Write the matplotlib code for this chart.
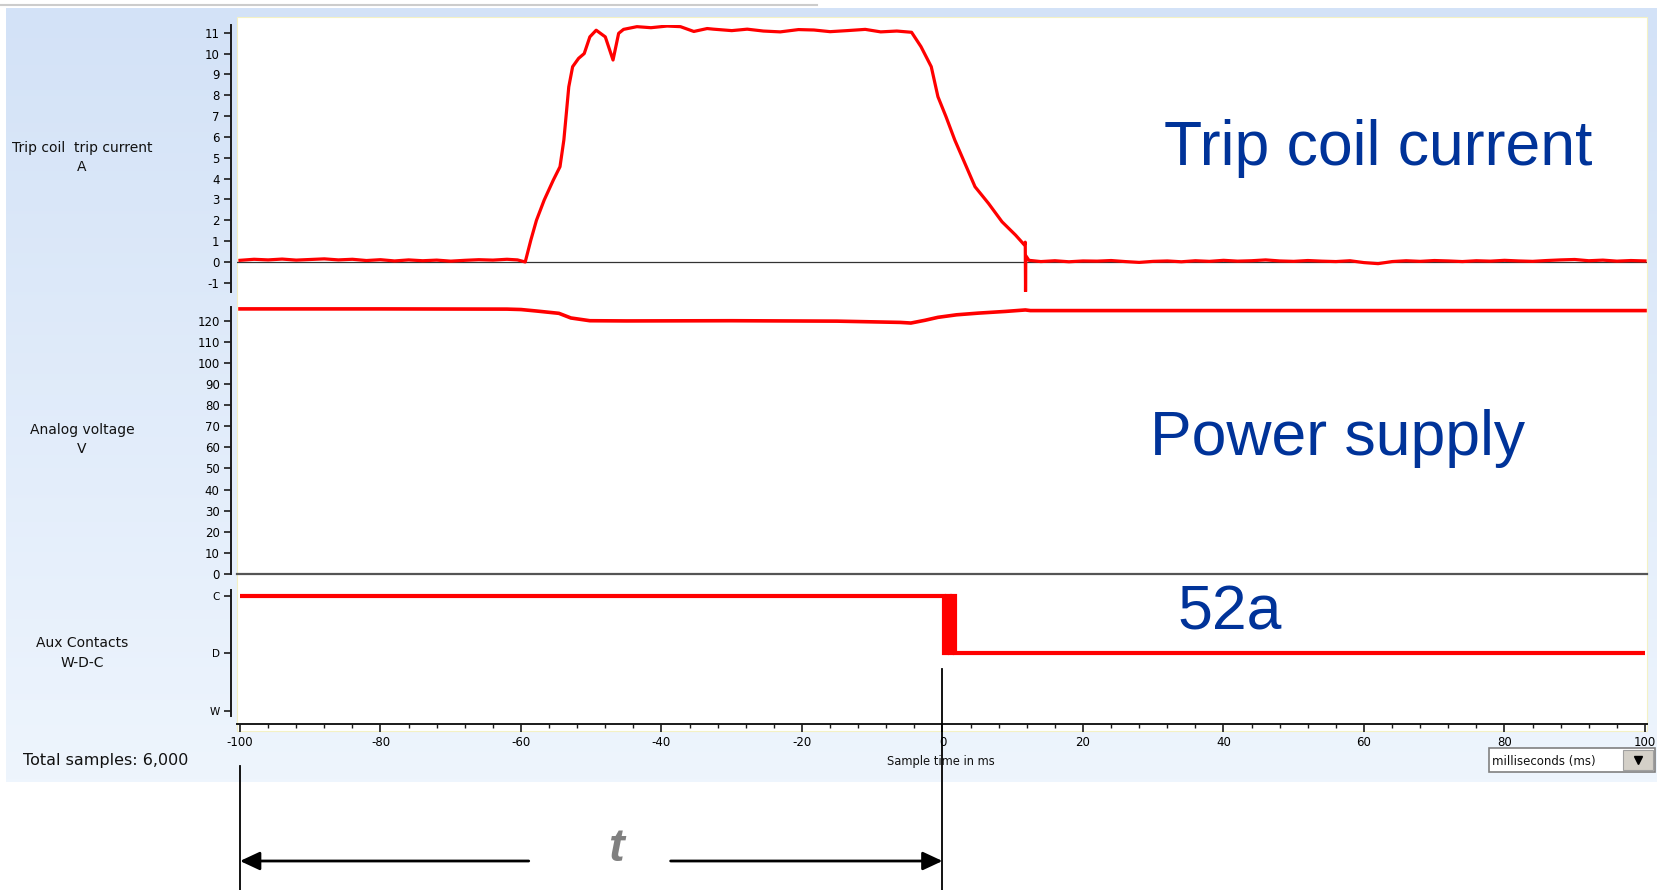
import numpy as np
import matplotlib
matplotlib.use("Agg")
import matplotlib.pyplot as plt
import matplotlib.transforms as mtransforms
from matplotlib.patches import Rectangle, FancyArrowPatch
from matplotlib.lines import Line2D
from matplotlib.colors import LinearSegmentedColormap
from matplotlib.ticker import MultipleLocator, FixedLocator

plt.rcParams["axes.unicode_minus"] = False
plt.rcParams["font.family"] = ["DejaVu Sans"]

# ---- recorded traces (time in ms) ----
current_t = [-100, -98, -96, -94, -92, -90, -88, -86, -84, -82, -80, -78, -76,
             -74, -72, -70, -68, -66, -64, -62, -60.5, -59.4,
             -58.6, -57.8, -56.7, -55.4, -54.45, -53.9, -53.5, -53.2, -52.65,
             -51.8, -51.0, -50.2, -49.3, -48.0, -46.9, -46.1, -45.4, -43.5,
             -41.5, -39.2, -37.3, -35.4, -33.5, -32.6, -30, -27.8, -25.5,
             -23.1, -20.5, -18.3, -16, -13.6, -11, -8.8, -6.5,
             -4.4, -3.06, -1.6, -0.65, 0.5, 1.75, 3.19, 4.63, 6.55, 8.47,
             10.4, 11.65, 11.78, 11.82, 11.86, 12.3, 14, 16, 18, 20, 22, 24,
             26, 28, 30, 32, 34, 36, 38, 40, 42, 44, 46, 48, 50, 52, 54, 56,
             58, 60, 62, 64, 66, 68, 70, 72, 74, 76, 78, 80, 82, 84, 86, 88,
             90, 92, 94, 96, 98, 100]
current_a = [0.08, 0.13, 0.10, 0.14, 0.09, 0.12, 0.15, 0.10, 0.13, 0.07, 0.11,
             0.05, 0.10, 0.06, 0.09, 0.04, 0.08, 0.11, 0.09, 0.13, 0.10, 0.0,
             1.05, 2.0, 2.97, 3.93, 4.57, 5.85, 7.3, 8.4, 9.37,
             9.77, 10.0, 10.8, 11.12, 10.8, 9.69, 10.97, 11.16, 11.29,
             11.24, 11.32, 11.29, 11.06, 11.20, 11.17, 11.10, 11.17, 11.08,
             11.04, 11.15, 11.13, 11.05, 11.10, 11.16, 11.04, 11.08,
             11.02, 10.33, 9.37, 7.93, 6.97, 5.85, 4.73, 3.61, 2.81, 1.93,
             1.29, 0.82, 0.95, -1.42, 0.30, 0.08, 0.02, 0.06, 0.01, 0.05,
             0.04, 0.07, 0.02, -0.02, 0.03, 0.05, 0.01, 0.06, 0.03,
             0.08, 0.04, 0.06, 0.10, 0.05, 0.03, 0.07, 0.04, 0.02, 0.06,
             -0.03, -0.08, 0.02, 0.06, 0.03, 0.07, 0.05, 0.02, 0.06, 0.04,
             0.08, 0.05, 0.03, 0.07, 0.10, 0.12, 0.06, 0.09, 0.04, 0.07, 0.05]

voltage_t = [-100, -80, -62, -60, -57.8, -54.6, -52.9, -50.2, -45, -30, -15,
             -6, -4.5, -2.5, -0.65, 2, 5.1, 8.95, 11.8, 12.5, 40, 70, 100]
voltage_v = [125.6, 125.6, 125.5, 125.3, 124.6, 123.5, 121.3, 120.0, 119.9,
             120.0, 119.8, 119.2, 118.9, 120.2, 121.6, 122.8, 123.6, 124.4,
             125.1, 124.8, 124.8, 124.8, 124.8]

# 52a auxiliary contact state: 0 = W, 1 = D, 2 = C (contact bounce near 0 ms)
aux_t = [-100, 0.2, 0.2, 0.6, 0.6, 1.0, 1.0, 1.4, 1.4, 1.75, 1.75, 100]
aux_s = [2, 2, 1, 1, 2, 2, 1, 1, 2, 2, 1, 1]
aux_labels = ["W", "D", "C"]

current_ticks = list(range(-1, 12))
voltage_ticks = list(range(0, 121, 10))
time_ticks = list(range(-100, 101, 20))

# ---- figure layout in pixels ----
W, H = 1658, 890
fig = plt.figure(figsize=(W / 100, H / 100), dpi=100)


def fx(x):
    return x / W


def fy(y):
    return 1 - y / H


def box(x0, y0, x1, y1):
    return [fx(x0), fy(y1), (x1 - x0) / W, (y1 - y0) / H]


# light blue gradient panel
bg = fig.add_axes(box(6, 8, 1658, 782), zorder=-3)
cmap = LinearSegmentedColormap.from_list("panel", ["#d3e2f7", "#eef5fd"])
bg.imshow(np.linspace(0, 1, 256)[:, None], aspect="auto", cmap=cmap,
          extent=[0, 1, 0, 1])
bg.axis("off")

fig.add_artist(Line2D([0, fx(817)], [fy(4.5), fy(4.5)], color="#cccccc",
                      lw=1.5, zorder=-2))

# white plotting area
fig.add_artist(Rectangle((fx(237), fy(731)), (1647 - 237) / W, (731 - 17) / H,
                         transform=fig.transFigure, facecolor="white",
                         edgecolor="#f4f1c4", lw=0.8, zorder=-1))

XLIM = (-100.427, 100.285)
RED = "#ff0000"
AX_COLOR = "#1a1a1a"


def style_axis(ax, ylim, show_x=False):
    ax.set_facecolor("none")
    ax.set_xlim(*XLIM)
    ax.set_ylim(*ylim)
    for s in ("top", "right"):
        ax.spines[s].set_visible(False)
    ax.spines["left"].set_position(("outward", 4.5))
    ax.spines["left"].set_color(AX_COLOR)
    ax.spines["left"].set_linewidth(1.4)
    ax.tick_params(axis="y", direction="out", length=5, width=1.2,
                   color=AX_COLOR, labelsize=8.5, pad=3)
    if show_x:
        ax.spines["bottom"].set_position(("outward", 5.8))
        ax.spines["bottom"].set_color(AX_COLOR)
        ax.spines["bottom"].set_linewidth(1.4)
    else:
        ax.spines["bottom"].set_visible(False)
        ax.tick_params(axis="x", bottom=False, labelbottom=False)


ax1 = fig.add_axes(box(237, 25, 1647, 292))
ax2 = fig.add_axes(box(237, 307, 1647, 574))
ax3 = fig.add_axes(box(237, 590, 1647, 716))

style_axis(ax1, (-1.44, 11.37))
style_axis(ax2, (0, 126.5))
style_axis(ax3, (-0.092, 2.105), show_x=True)

ax1.yaxis.set_major_locator(FixedLocator(current_ticks))
ax2.yaxis.set_major_locator(FixedLocator(voltage_ticks))
ax3.set_yticks([0, 1, 2])
ax3.set_yticklabels(aux_labels, fontsize=7.5)

ax3.xaxis.set_major_locator(FixedLocator(time_ticks))
ax3.xaxis.set_minor_locator(MultipleLocator(4))
ax3.tick_params(axis="x", which="major", direction="out", length=5.8,
                width=1.2, color=AX_COLOR, labelsize=8.5, pad=3)
ax3.tick_params(axis="x", which="minor", direction="out", length=3.2,
                width=1.0, color=AX_COLOR)

# zero references
ax1.axhline(0, color="#333333", lw=0.9, zorder=1)
ax2.axhline(0, color="#555555", lw=1.6, zorder=1, clip_on=False)

# traces
ax1.plot(current_t, current_a, color=RED, lw=2.3, zorder=3)
ax2.plot(voltage_t, voltage_v, color=RED, lw=2.6, zorder=3)
ax3.plot(aux_t, aux_s, color=RED, lw=3.0, zorder=3,
         solid_joinstyle="miter", solid_capstyle="butt")

# panel captions
label_kw = dict(ha="center", va="center", fontsize=10, color="#111111")
fig.text(fx(82), fy(148), "Trip coil  trip current", **label_kw)
fig.text(fx(82), fy(167), "A", **label_kw)
fig.text(fx(82), fy(430), "Analog voltage", **label_kw)
fig.text(fx(82), fy(449), "V", **label_kw)
fig.text(fx(82), fy(643), "Aux Contacts", **label_kw)
fig.text(fx(82), fy(663), "W-D-C", **label_kw)
fig.text(fx(23), fy(760), "Total samples: 6,000", ha="left", va="center",
         fontsize=11.5, color="#111111")
fig.text(fx(941), fy(761), "Sample time in ms", ha="center", va="center",
         fontsize=8.3, color="#111111")

big_kw = dict(ha="center", va="baseline", fontsize=45, color="#003399",
              family=["Liberation Sans", "DejaVu Sans"])
fig.text(fx(1378), fy(165), "Trip coil current", **big_kw)
fig.text(fx(1338), fy(455), "Power supply", **big_kw)
fig.text(fx(1230), fy(629), "52a", **big_kw)

# unit selector box
fig.add_artist(Rectangle((fx(1489), fy(772)), (1655 - 1489) / W, 24 / H,
                         transform=fig.transFigure, facecolor="white",
                         edgecolor="#808080", lw=1.2, zorder=2))
fig.add_artist(Rectangle((fx(1623), fy(770)), 30 / W, 20 / H,
                         transform=fig.transFigure, facecolor="#d4d0c8",
                         edgecolor="#a0a0a0", lw=0.8, zorder=3))
fig.add_artist(Line2D([fx(1638)], [fy(760)], marker="v", markersize=6,
                      color="black", zorder=4))
fig.text(fx(1492), fy(761), "milliseconds (ms)", ha="left", va="center",
         fontsize=8.5, color="#111111", zorder=5)

# time interval t between the trigger and contact opening
blend = mtransforms.blended_transform_factory(ax3.transData, fig.transFigure)
for xv, ytop in ((-100, 766), (0, 669)):
    fig.add_artist(Line2D([xv, xv], [fy(ytop), 0], transform=blend,
                          color="black", lw=1.3, zorder=4))
for x_from, x_to in ((-58.9, -100), (-38.7, 0)):
    fig.add_artist(FancyArrowPatch((x_from, fy(861)), (x_to, fy(861)),
                                   transform=blend,
                                   arrowstyle="-|>,head_length=0.6,head_width=0.28",
                                   mutation_scale=20, lw=2, color="black",
                                   shrinkA=0, shrinkB=0, zorder=4))
fig.text(-46.5, fy(849), "t", transform=blend, ha="center", va="center",
         fontsize=34, fontweight="bold", fontstyle="italic", color="#808080",
         family=["Liberation Sans", "DejaVu Sans"])

fig.savefig("out.png", dpi=100)
